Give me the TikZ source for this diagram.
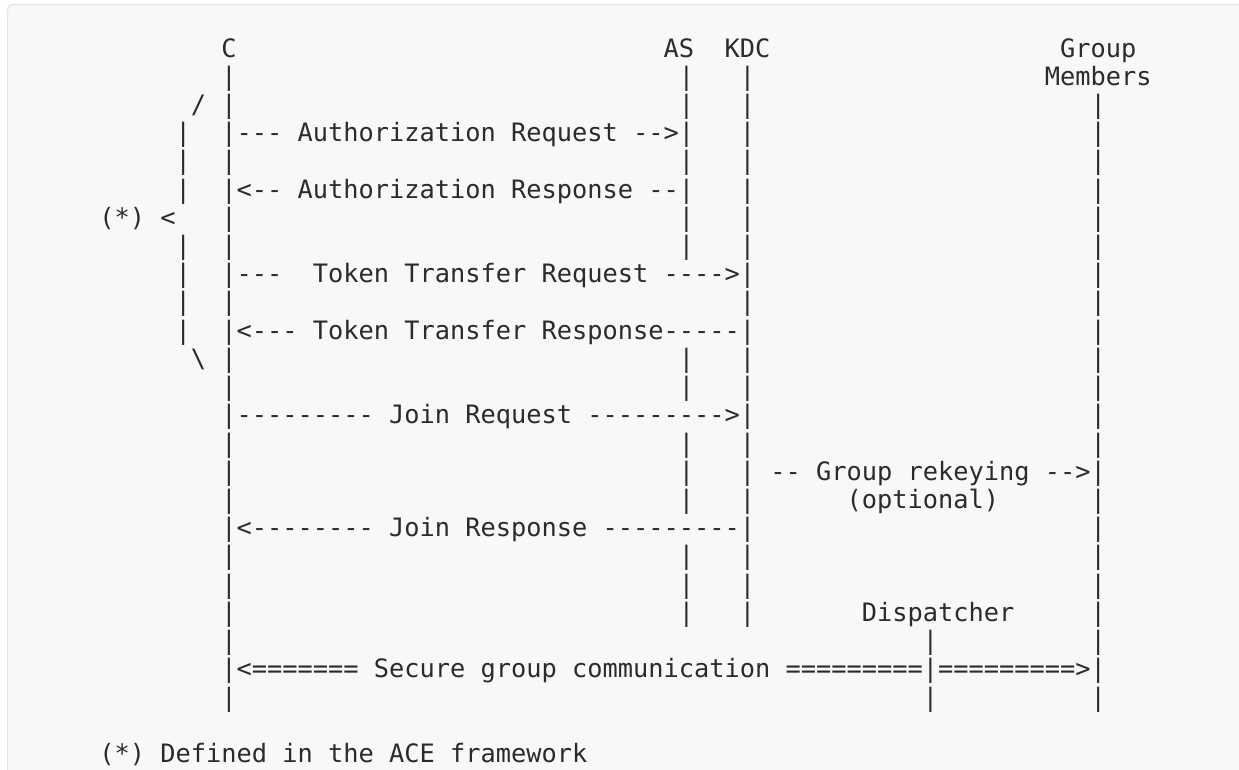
\documentclass[tikz,border=0pt]{standalone}
\usepackage{fontspec}
\setmonofont{DejaVu Sans Mono}
\definecolor{ink}{HTML}{2B2B2B}
\definecolor{bgfill}{HTML}{F8F8F8}
\definecolor{framecol}{HTML}{E4E4E4}
\tikzset{
  txt/.style={anchor=base west, inner sep=0pt, outer sep=0pt, text=ink,
              font=\ttfamily\fontsize{19pt}{22pt}\selectfont},
  panel/.style={fill=bgfill, draw=framecol, line width=0.75pt, rounded corners=4pt}
}
\newcommand\cx[1]{99.4+15.25*#1}
\newcommand\ry[1]{57+28.22*(#1-1)}
\begin{document}
\begin{tikzpicture}[x=0.75pt,y=-0.75pt]
\useasboundingbox (0,0) rectangle (1239,769);
\path[panel] (7.5,4.5) rectangle (1262,795);
% headers
\node[txt] (C)   at ({\cx{8}},{\ry{1}})  {C};
\node[txt] (AS)  at ({\cx{37}},{\ry{1}}) {AS};
\node[txt] (KDC) at ({\cx{41}},{\ry{1}}) {KDC};
\node[txt] (GM1) at ({\cx{63}},{\ry{1}}) {Group};
\node[txt] (GM2) at ({\cx{62}},{\ry{2}}) {Members};
% lifelines
\foreach \r in {2,...,24} \node[txt] (c\r) at ({\cx{8}},{\ry{\r}}) {|};
\foreach \r in {2,3,4,5,6,7,8,12,13,15,16,17,19,20,21} \node[txt] (as\r) at ({\cx{38}},{\ry{\r}}) {|};
\foreach \r in {2,...,21} \node[txt] (k\r) at ({\cx{42}},{\ry{\r}}) {|};
\foreach \r in {3,...,24} \node[txt] (g\r) at ({\cx{65}},{\ry{\r}}) {|};
\foreach \r in {22,23,24} \node[txt] (d\r) at ({\cx{54}},{\ry{\r}}) {|};
% brace
\foreach \r in {4,5,6,8,9,10,11} \node[txt] (b\r) at ({\cx{5}},{\ry{\r}}) {|};
\node[txt] (btop) at ({\cx{6}},{\ry{3}}) {/};
\node[txt] (bbot) at ({\cx{6}},{\ry{12}}) {\textbackslash};
\node[txt] (star) at ({\cx{0}},{\ry{7}}) {(*) <};
% messages
\node[txt] (m1) at ({\cx{9}},{\ry{4}})  {--- Authorization Request -->};
\node[txt] (m2) at ({\cx{9}},{\ry{6}})  {<-- Authorization Response --};
\node[txt] (m3) at ({\cx{9}},{\ry{9}})  {---\ \ Token Transfer Request ---->};
\node[txt] (m4) at ({\cx{9}},{\ry{11}}) {<--- Token Transfer Response-----};
\node[txt] (m5) at ({\cx{9}},{\ry{14}}) {--------- Join Request --------->};
\node[txt] (m6) at ({\cx{44}},{\ry{16}}) {-- Group rekeying -->};
\node[txt] (m6b) at ({\cx{49}},{\ry{17}}) {(optional)};
\node[txt] (m7) at ({\cx{9}},{\ry{18}}) {<-------- Join Response ---------};
\node[txt] (disp) at ({\cx{50}},{\ry{21}}) {Dispatcher};
\node[txt] (m8) at ({\cx{9}},{\ry{23}}) {<======= Secure group communication =========};
\node[txt] (m8b) at ({\cx{55}},{\ry{23}}) {=========>};
% footnote
\node[txt] (note) at ({\cx{0}},{\ry{26}}) {(*) Defined in the ACE framework};
\end{tikzpicture}
\end{document}
